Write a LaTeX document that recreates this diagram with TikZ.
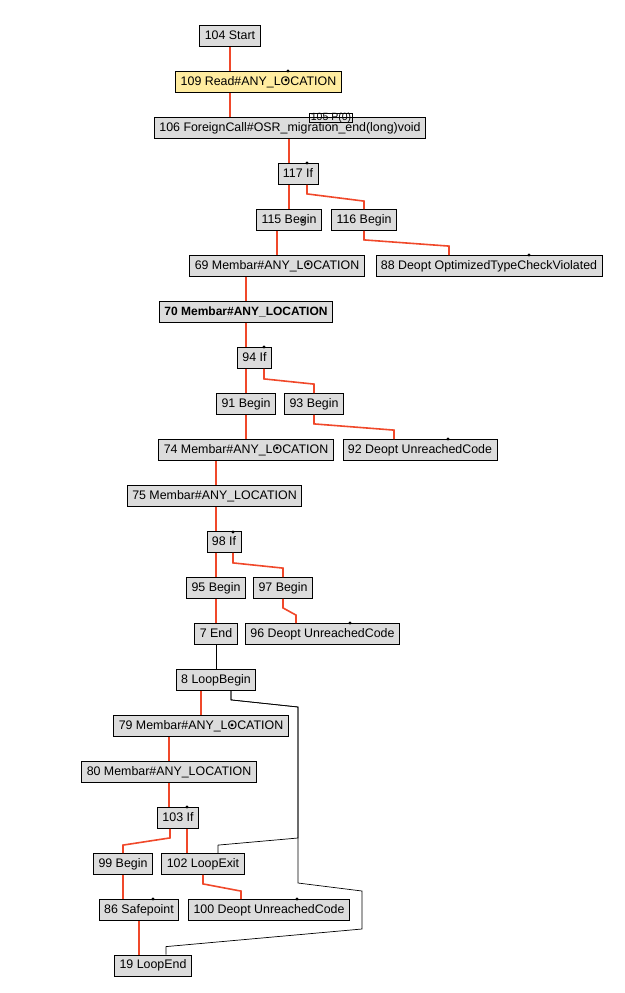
\documentclass[tikz,border=0pt]{standalone}
\usepackage{fontspec}
\setmainfont{Liberation Sans}
\definecolor{nodegray}{RGB}{220, 220, 220}
\definecolor{readyellow}{RGB}{255, 236, 160}
\definecolor{ctrlred}{RGB}{240, 72, 42}

\begin{document}
\begin{tikzpicture}[x=1pt, y=-1pt,
  irnode/.style={draw, line width=0.8pt, fill=nodegray, font=\fontsize{12.4}{14}\selectfont,
    inner xsep=5pt, inner ysep=0pt, text height=9pt, text depth=2.5pt, minimum height=21pt},
  ctrl/.style={ctrlred, line width=1.6pt},
  loopedge/.style={black, line width=0.7pt}]
  \useasboundingbox (0, 0) rectangle (624, 993);

  % Nodes, one row every 46px
  \node[irnode] (n104) at (230, 36) {104 Start};
  \node[irnode, fill=readyellow] (n109) at (258.5, 82) {109 Read\#ANY\_LOCATION};
  \node[irnode] (n106) at (290, 128) {106 ForeignCall\#OSR\_migration\_end(long)void};
  \node[draw, line width=0.6pt, font=\fontsize{10.5}{11}\selectfont, inner xsep=1.5pt, inner ysep=0pt,
    text height=7pt, text depth=2pt] (n105) at (331, 118) {105 P(0)};
  \node[irnode] (n117) at (298, 174) {117 If};
  \node[irnode] (n115) at (289, 220) {115 Begin};
  \node[irnode] (n116) at (364, 220) {116 Begin};
  \node[irnode] (n69) at (277, 266) {69 Membar\#ANY\_LOCATION};
  \node[irnode] (n88) at (489, 266) {88 Deopt OptimizedTypeCheckViolated};
  \node[irnode, font=\fontsize{12}{14}\selectfont\bfseries] (n70) at (246, 312) {70 Membar\#ANY\_LOCATION};
  \node[irnode] (n94) at (254.5, 358) {94 If};
  \node[irnode] (n91) at (246, 404) {91 Begin};
  \node[irnode] (n93) at (314, 404) {93 Begin};
  \node[irnode] (n74) at (246, 450) {74 Membar\#ANY\_LOCATION};
  \node[irnode] (n92) at (420, 450) {92 Deopt UnreachedCode};
  \node[irnode] (n75) at (214.5, 496) {75 Membar\#ANY\_LOCATION};
  \node[irnode] (n98) at (224, 542) {98 If};
  \node[irnode] (n95) at (216, 588) {95 Begin};
  \node[irnode] (n97) at (283, 588) {97 Begin};
  \node[irnode] (n7) at (216, 634) {7 End};
  \node[irnode] (n96) at (322.5, 634) {96 Deopt UnreachedCode};
  \node[irnode] (n8) at (216, 680) {8 LoopBegin};
  \node[irnode] (n79) at (201, 726) {79 Membar\#ANY\_LOCATION};
  \node[irnode] (n80) at (169, 772) {80 Membar\#ANY\_LOCATION};
  \node[irnode] (n103) at (178, 818) {103 If};
  \node[irnode] (n99) at (123, 864) {99 Begin};
  \node[irnode] (n102) at (203, 864) {102 LoopExit};
  \node[irnode] (n86) at (139, 910) {86 Safepoint};
  \node[irnode] (n100) at (269, 910) {100 Deopt UnreachedCode};
  \node[irnode] (n19) at (153, 965.5) {19 LoopEnd};

  % Control flow
  \draw[ctrl] (n104.south) -- (n104.south |- n109.north);
  \draw[ctrl] (n104 |- n109.south) -- (n104 |- n106.north);
  \draw[ctrl] (n115 |- n106.south) -- (n115 |- n117.north);
  \draw[ctrl] (n115 |- n117.south) -- (n115.north);
  \draw[ctrl] ([xshift=9pt]n117.south) -- ++(0, 9) -- ([yshift=8pt]n116.north) -- (n116.north);
  \draw[ctrl] (n69 |- n115.south) -- (n69.north);
  \draw[ctrl] (n116.south) -- ++(0, 9) -- ([xshift=-40pt, yshift=9pt]n88.north) -- ([xshift=-40pt]n88.north);
  \draw[ctrl] (n70 |- n69.south) -- (n70.north);
  \draw[ctrl] (n70.south) -- (n70 |- n94.north);
  \draw[ctrl] (n91 |- n94.south) -- (n91.north);
  \draw[ctrl] ([xshift=9.5pt]n94.south) -- ++(0, 10) -- ([yshift=9pt]n93.north) -- (n93.north);
  \draw[ctrl] (n91.south) -- (n74.north);
  \draw[ctrl] (n93.south) -- ++(0, 9) -- ([xshift=-26pt, yshift=9pt]n92.north) -- ([xshift=-26pt]n92.north);
  \draw[ctrl] (n95 |- n74.south) -- (n95 |- n75.north);
  \draw[ctrl] (n95 |- n75.south) -- (n95 |- n98.north);
  \draw[ctrl] (n95 |- n98.south) -- (n95.north);
  \draw[ctrl] ([xshift=9pt]n98.south) -- ++(0, 10) -- ([yshift=9pt]n97.north) -- (n97.north);
  \draw[ctrl] (n95.south) -- (n7.north);
  \draw[ctrl] (n97.south) -- ++(0, 9) -- ([xshift=-26.5pt, yshift=8pt]n96.north) -- ([xshift=-26.5pt]n96.north);
  \draw[loopedge] (n7.south) -- (n7 |- n8.north);
  \draw[ctrl] (n79 |- n8.south) -- (n79.north);
  \draw[ctrl] (n80 |- n79.south) -- (n80.north);
  \draw[ctrl] (n80.south) -- (n80 |- n103.north);
  \draw[ctrl] ([xshift=-8pt]n103.south) -- ++(0, 9) -- ([yshift=8pt]n99.north) -- (n99.north);
  \draw[ctrl] ([xshift=9pt]n103.south) -- ([xshift=9pt]n103.south |- n102.north);
  \draw[ctrl] (n99.south) -- (n99 |- n86.north);
  \draw[ctrl] (n102.south) -- ++(0, 9) -- ([xshift=-28pt, yshift=8pt]n100.north) -- ([xshift=-28pt]n100.north);
  \draw[ctrl] (n86.south) -- (n86 |- n19.north);

  % Loop edges from the LoopBegin
  \draw[loopedge] ([xshift=15pt]n8.south) -- ++(0, 9) -- (298, 707) -- (298, 838)
    -- ([xshift=15pt, yshift=8pt]n102.north) -- ([xshift=15pt]n102.north);
  \draw[loopedge] ([xshift=15pt]n8.south) -- ++(0, 9) -- (298, 707) -- (298, 883)
    -- (362, 891) -- (362, 929) -- ([xshift=13pt, yshift=8pt]n19.north) -- ([xshift=13pt]n19.north);

  % Input ports
  \foreach \x/\y in {288/71, 286/80, 307/163, 303/220, 529/255, 308/264, 264/347, 277/448,
                     448/439, 233/532, 350/623, 232/725, 187/807, 153/899, 297/899} {
    \fill (\x, \y) circle (1.6pt);
  }
\end{tikzpicture}
\end{document}
